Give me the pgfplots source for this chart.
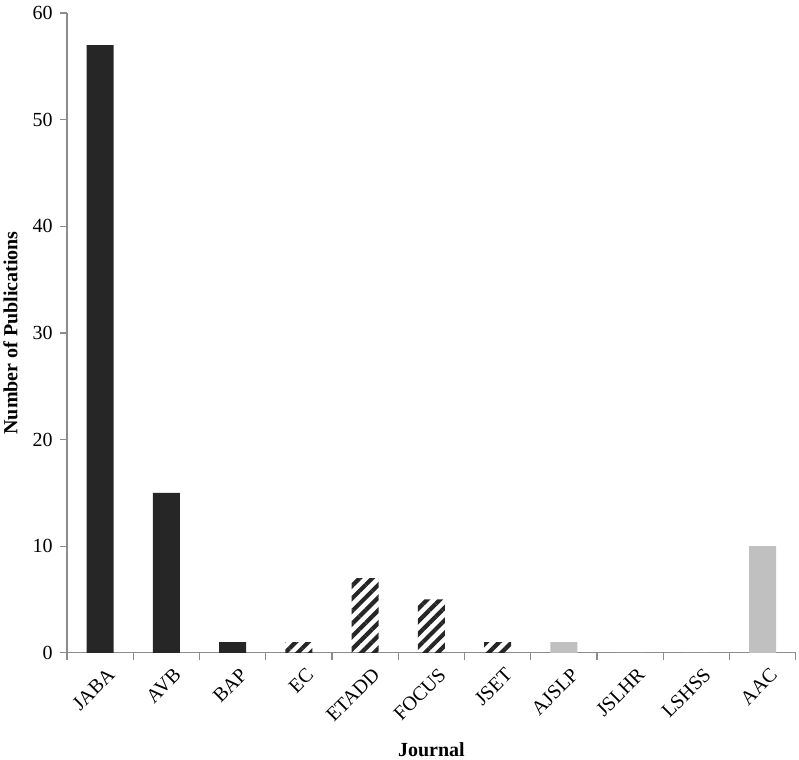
\documentclass[border=0pt]{standalone}
\usepackage{pgfplots}
\pgfplotsset{compat=1.18}
\usepackage{fontspec}
\setmainfont{Liberation Serif}
\usetikzlibrary{patterns.meta}
\definecolor{darkbar}{RGB}{38,38,38}
\definecolor{graybar}{RGB}{192,192,192}
\definecolor{axgray}{RGB}{140,140,140}
\begin{document}
\begin{tikzpicture}
\begin{axis}[
  scale only axis, width=729pt, height=640pt,
  xmin=-0.5, xmax=10.5, ymin=0, ymax=60,
  axis lines=left,
  axis line style={axgray, line width=1.2pt, -},
  ytick={0,10,...,60},
  xtick={-0.5,0.5,...,10.5}, xticklabels={},
  extra x ticks={0,1,2,3,4,5,6,7,8,9,10},
  extra x tick labels={JABA,AVB,BAP,EC,ETADD,FOCUS,JSET,AJSLP,JSLHR,LSHSS,AAC},
  extra x tick style={tick style={draw=none}, tick label style={rotate=45, anchor=north east, xshift=3pt, yshift=-6pt}},
  tick align=outside, major tick length=7pt,
  tick style={axgray, line width=1.2pt},
  ticklabel style={font=\fontsize{20}{24}\selectfont},
  yticklabel style={xshift=-4pt},
  /pgf/number format/assume math mode=true,
  xlabel={Journal},
  xlabel style={font=\bfseries\fontsize{20}{24}\selectfont, yshift=-4pt},
  ylabel={Number of Publications},
  ylabel style={font=\bfseries\fontsize{20}{24}\selectfont, yshift=8pt},
  ybar, bar width=27pt, bar shift=0pt,
  clip=false,
]
\addplot[fill=darkbar, draw=none] coordinates {(0,57) (1,15) (2,1)};
\addplot[pattern={Lines[angle=45, distance=9pt, line width=4.2pt]}, pattern color=darkbar, draw=none] coordinates {(3,1) (4,7) (5,5) (6,1)};
\addplot[fill=graybar, draw=none] coordinates {(7,1) (8,0) (9,0) (10,10)};
\end{axis}
\path (current bounding box.north west) -- ++(0,3pt);
\end{tikzpicture}
\end{document}
